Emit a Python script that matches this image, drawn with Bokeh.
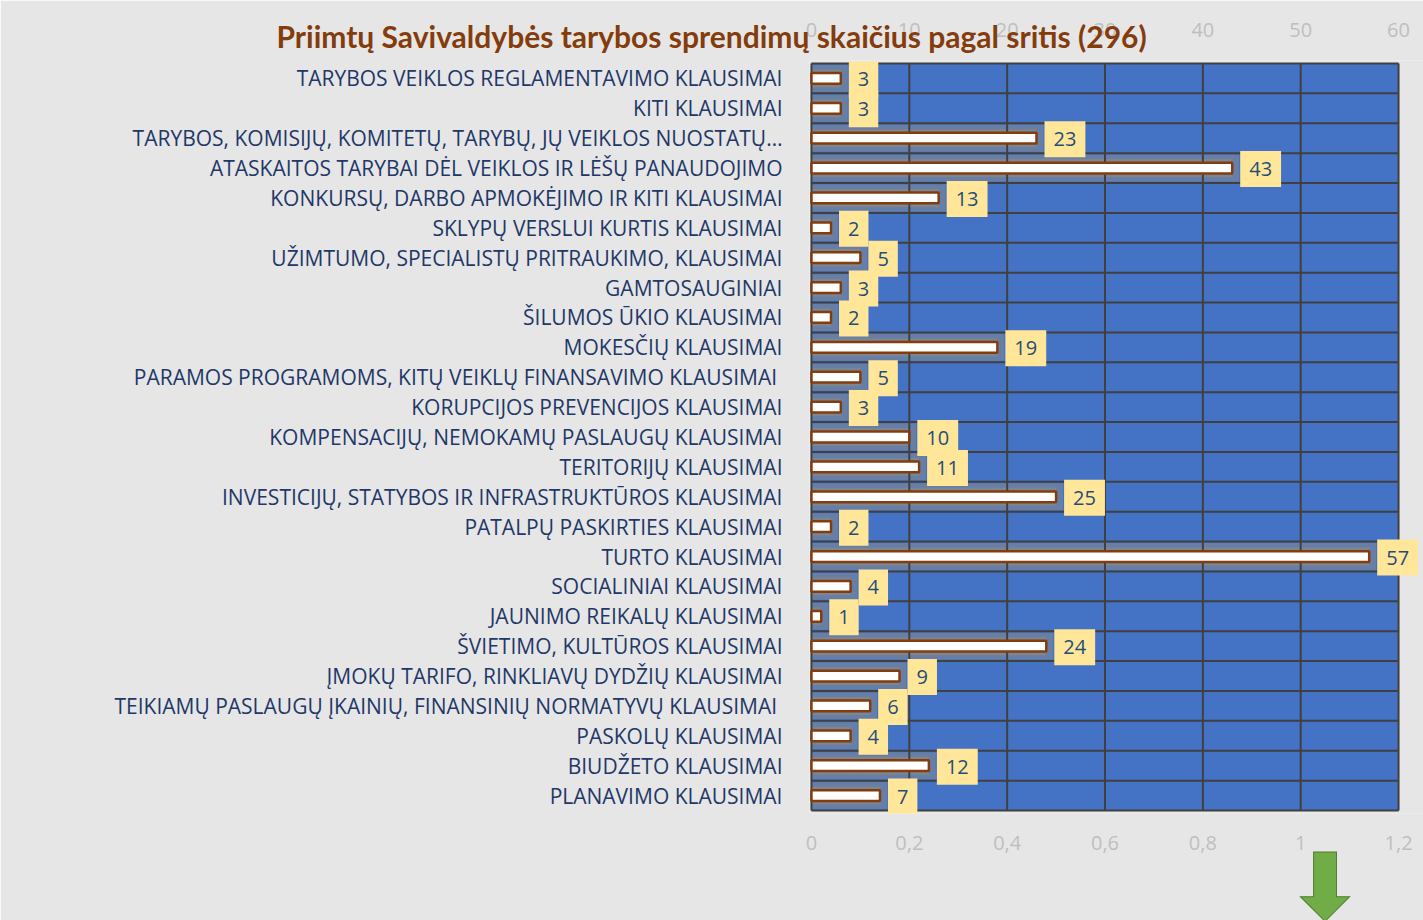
from bokeh.plotting import figure
from bokeh.models import (Range1d, LinearAxis, FixedTicker, CustomJSTickFormatter,
                          ColumnDataSource, Title)
from bokeh.embed import file_html
from bokeh.resources import INLINE
from bokeh.core.properties import value

categories = [
    "TARYBOS VEIKLOS REGLAMENTAVIMO KLAUSIMAI",
    "KITI KLAUSIMAI",
    "TARYBOS, KOMISIJŲ, KOMITETŲ, TARYBŲ, JŲ VEIKLOS NUOSTATŲ…",
    "ATASKAITOS TARYBAI DĖL VEIKLOS IR LĖŠŲ PANAUDOJIMO",
    "KONKURSŲ, DARBO APMOKĖJIMO IR KITI KLAUSIMAI",
    "SKLYPŲ VERSLUI KURTIS KLAUSIMAI",
    "UŽIMTUMO, SPECIALISTŲ PRITRAUKIMO, KLAUSIMAI",
    "GAMTOSAUGINIAI",
    "ŠILUMOS ŪKIO KLAUSIMAI",
    "MOKESČIŲ KLAUSIMAI",
    "PARAMOS PROGRAMOMS,  KITŲ VEIKLŲ FINANSAVIMO KLAUSIMAI",
    "KORUPCIJOS PREVENCIJOS KLAUSIMAI",
    "KOMPENSACIJŲ, NEMOKAMŲ PASLAUGŲ KLAUSIMAI",
    "TERITORIJŲ KLAUSIMAI",
    "INVESTICIJŲ, STATYBOS IR INFRASTRUKTŪROS KLAUSIMAI",
    "PATALPŲ PASKIRTIES KLAUSIMAI",
    "TURTO KLAUSIMAI",
    "SOCIALINIAI KLAUSIMAI",
    "JAUNIMO REIKALŲ KLAUSIMAI",
    "ŠVIETIMO, KULTŪROS KLAUSIMAI",
    "ĮMOKŲ TARIFO, RINKLIAVŲ DYDŽIŲ KLAUSIMAI",
    "TEIKIAMŲ PASLAUGŲ ĮKAINIŲ,  FINANSINIŲ NORMATYVŲ KLAUSIMAI",
    "PASKOLŲ KLAUSIMAI",
    "BIUDŽETO KLAUSIMAI",
    "PLANAVIMO KLAUSIMAI",
]
counts = [3, 3, 23, 43, 13, 2, 5, 3, 2, 19, 5, 3, 10, 11, 25, 2, 57, 4, 1, 24, 9, 6, 4, 12, 7]
top_ticks = [0, 10, 20, 30, 40, 50, 60]
bottom_ticks = [0, 0.2, 0.4, 0.6, 0.8, 1.0, 1.2]
title_text = "Priimtų Savivaldybės tarybos sprendimų skaičius pagal sritis (296)"

n = len(categories)
ypos = [i + 0.5 for i in range(n)]
src = ColumnDataSource(dict(y=ypos, v=counts, lab=[str(c) for c in counts],
                            glow=[c + 0.7 for c in counts]))

xmin, xmax = top_ticks[0], top_ticks[-1]
ratio = bottom_ticks[-1] / xmax
x_lo, x_hi = -0.2, 62.55

BG = "#e6e6e6"
BLUE = "#4472C4"
GRID = "#404040"
p = figure(width=1423, height=920, x_range=Range1d(x_lo, x_hi), y_range=Range1d(n + 0.1, -0.1),
           x_axis_location="above", output_backend="svg", toolbar_location=None,
           min_border_left=809, min_border_right=0, min_border_top=60, min_border_bottom=107,
           background_fill_color=BG, border_fill_color=BG)
p.outline_line_color = None
p.xgrid.visible = False
p.ygrid.visible = False

# top axis
ax = p.xaxis[0]
ax.ticker = FixedTicker(ticks=top_ticks)
ax.axis_line_color = None
ax.major_tick_line_color = None
ax.minor_tick_line_color = None
ax.major_label_text_color = "#bfbfbf"
ax.major_label_text_font = "Open Sans"
ax.major_label_text_font_size = "20px"
ax.major_label_standoff = 18

# secondary bottom axis
p.extra_x_ranges = {"sec": Range1d(x_lo * ratio, x_hi * ratio)}
ax2 = LinearAxis(x_range_name="sec", ticker=FixedTicker(ticks=bottom_ticks),
                 formatter=CustomJSTickFormatter(code="return (Math.round(tick*10)/10).toString().replace('.', ',');"))
ax2.axis_line_color = None
ax2.major_tick_line_color = None
ax2.minor_tick_line_color = None
ax2.major_label_text_color = "#bfbfbf"
ax2.major_label_text_font = "Open Sans"
ax2.major_label_text_font_size = "20px"
ax2.major_label_standoff = 16
p.add_layout(ax2, "below")

# category axis
yax = p.yaxis[0]
yax.ticker = FixedTicker(ticks=ypos)
yax.formatter = CustomJSTickFormatter(args=dict(labels=categories),
                                      code="return labels[Math.floor(tick)];")
yax.axis_line_color = None
yax.major_tick_line_color = None
yax.minor_tick_line_color = None
yax.major_label_text_color = "#1f3868"
yax.major_label_text_font = "Open Sans"
yax.major_label_text_font_size = "21px"
yax.major_label_standoff = 21

# plot area
p.quad(left=xmin, right=xmax, top=0, bottom=n, fill_color=BLUE, line_color=None)

# glow behind bars
p.hbar(y="y", left=0, right="glow", height=0.9, source=src,
       fill_color="#a89870", fill_alpha=0.35, line_color=None)
p.hbar(y="y", left=0, right="v", height=0.6, source=src,
       fill_color="#b09560", fill_alpha=0.3, line_color=None)

# grid lines (also form the plot-area border)
p.segment(x0=top_ticks, x1=top_ticks, y0=[0] * len(top_ticks), y1=[n] * len(top_ticks),
          line_color=GRID, line_width=2)
p.segment(x0=[xmin] * (n + 1), x1=[xmax] * (n + 1), y0=list(range(n + 1)), y1=list(range(n + 1)),
          line_color=GRID, line_width=2)

# bars
p.hbar(y="y", left=0, right="v", height=0.36, source=src,
       fill_color="white", line_color="#843C0C", line_width=2.5)

# data labels
p.text(x="v", y="y", text="lab", source=src, x_offset=8, y_offset=1,
       text_align="left", text_baseline="middle",
       text_font=value("Open Sans"), text_font_size="20px", text_color="#1F4E79",
       background_fill_color="#FFE699", padding=(9, 11))

# main title (in the top panel, pulled down over the tick labels)
main_title = Title(text=title_text, align="left", offset=-533, vertical_align="bottom",
                   text_font="Lato", text_font_style="bold", text_font_size="30px",
                   text_color="#843C0C")
try:
    main_title.standoff = -68
except Exception:
    main_title.standoff = 0
p.add_layout(main_title, "above")

# decorative green arrow (bottom panel)
arrow = Title(text="⬇", align="right", offset=60, vertical_align="bottom",
              text_font="DejaVu Sans", text_font_size="92px", text_color="#70AD47")
try:
    arrow.standoff = -42
except Exception:
    arrow.standoff = 0
try:
    arrow.text_outline_color = "#507E32"
except Exception:
    pass
p.add_layout(arrow, "below")

open("out.html", "w").write(file_html(p, INLINE))
